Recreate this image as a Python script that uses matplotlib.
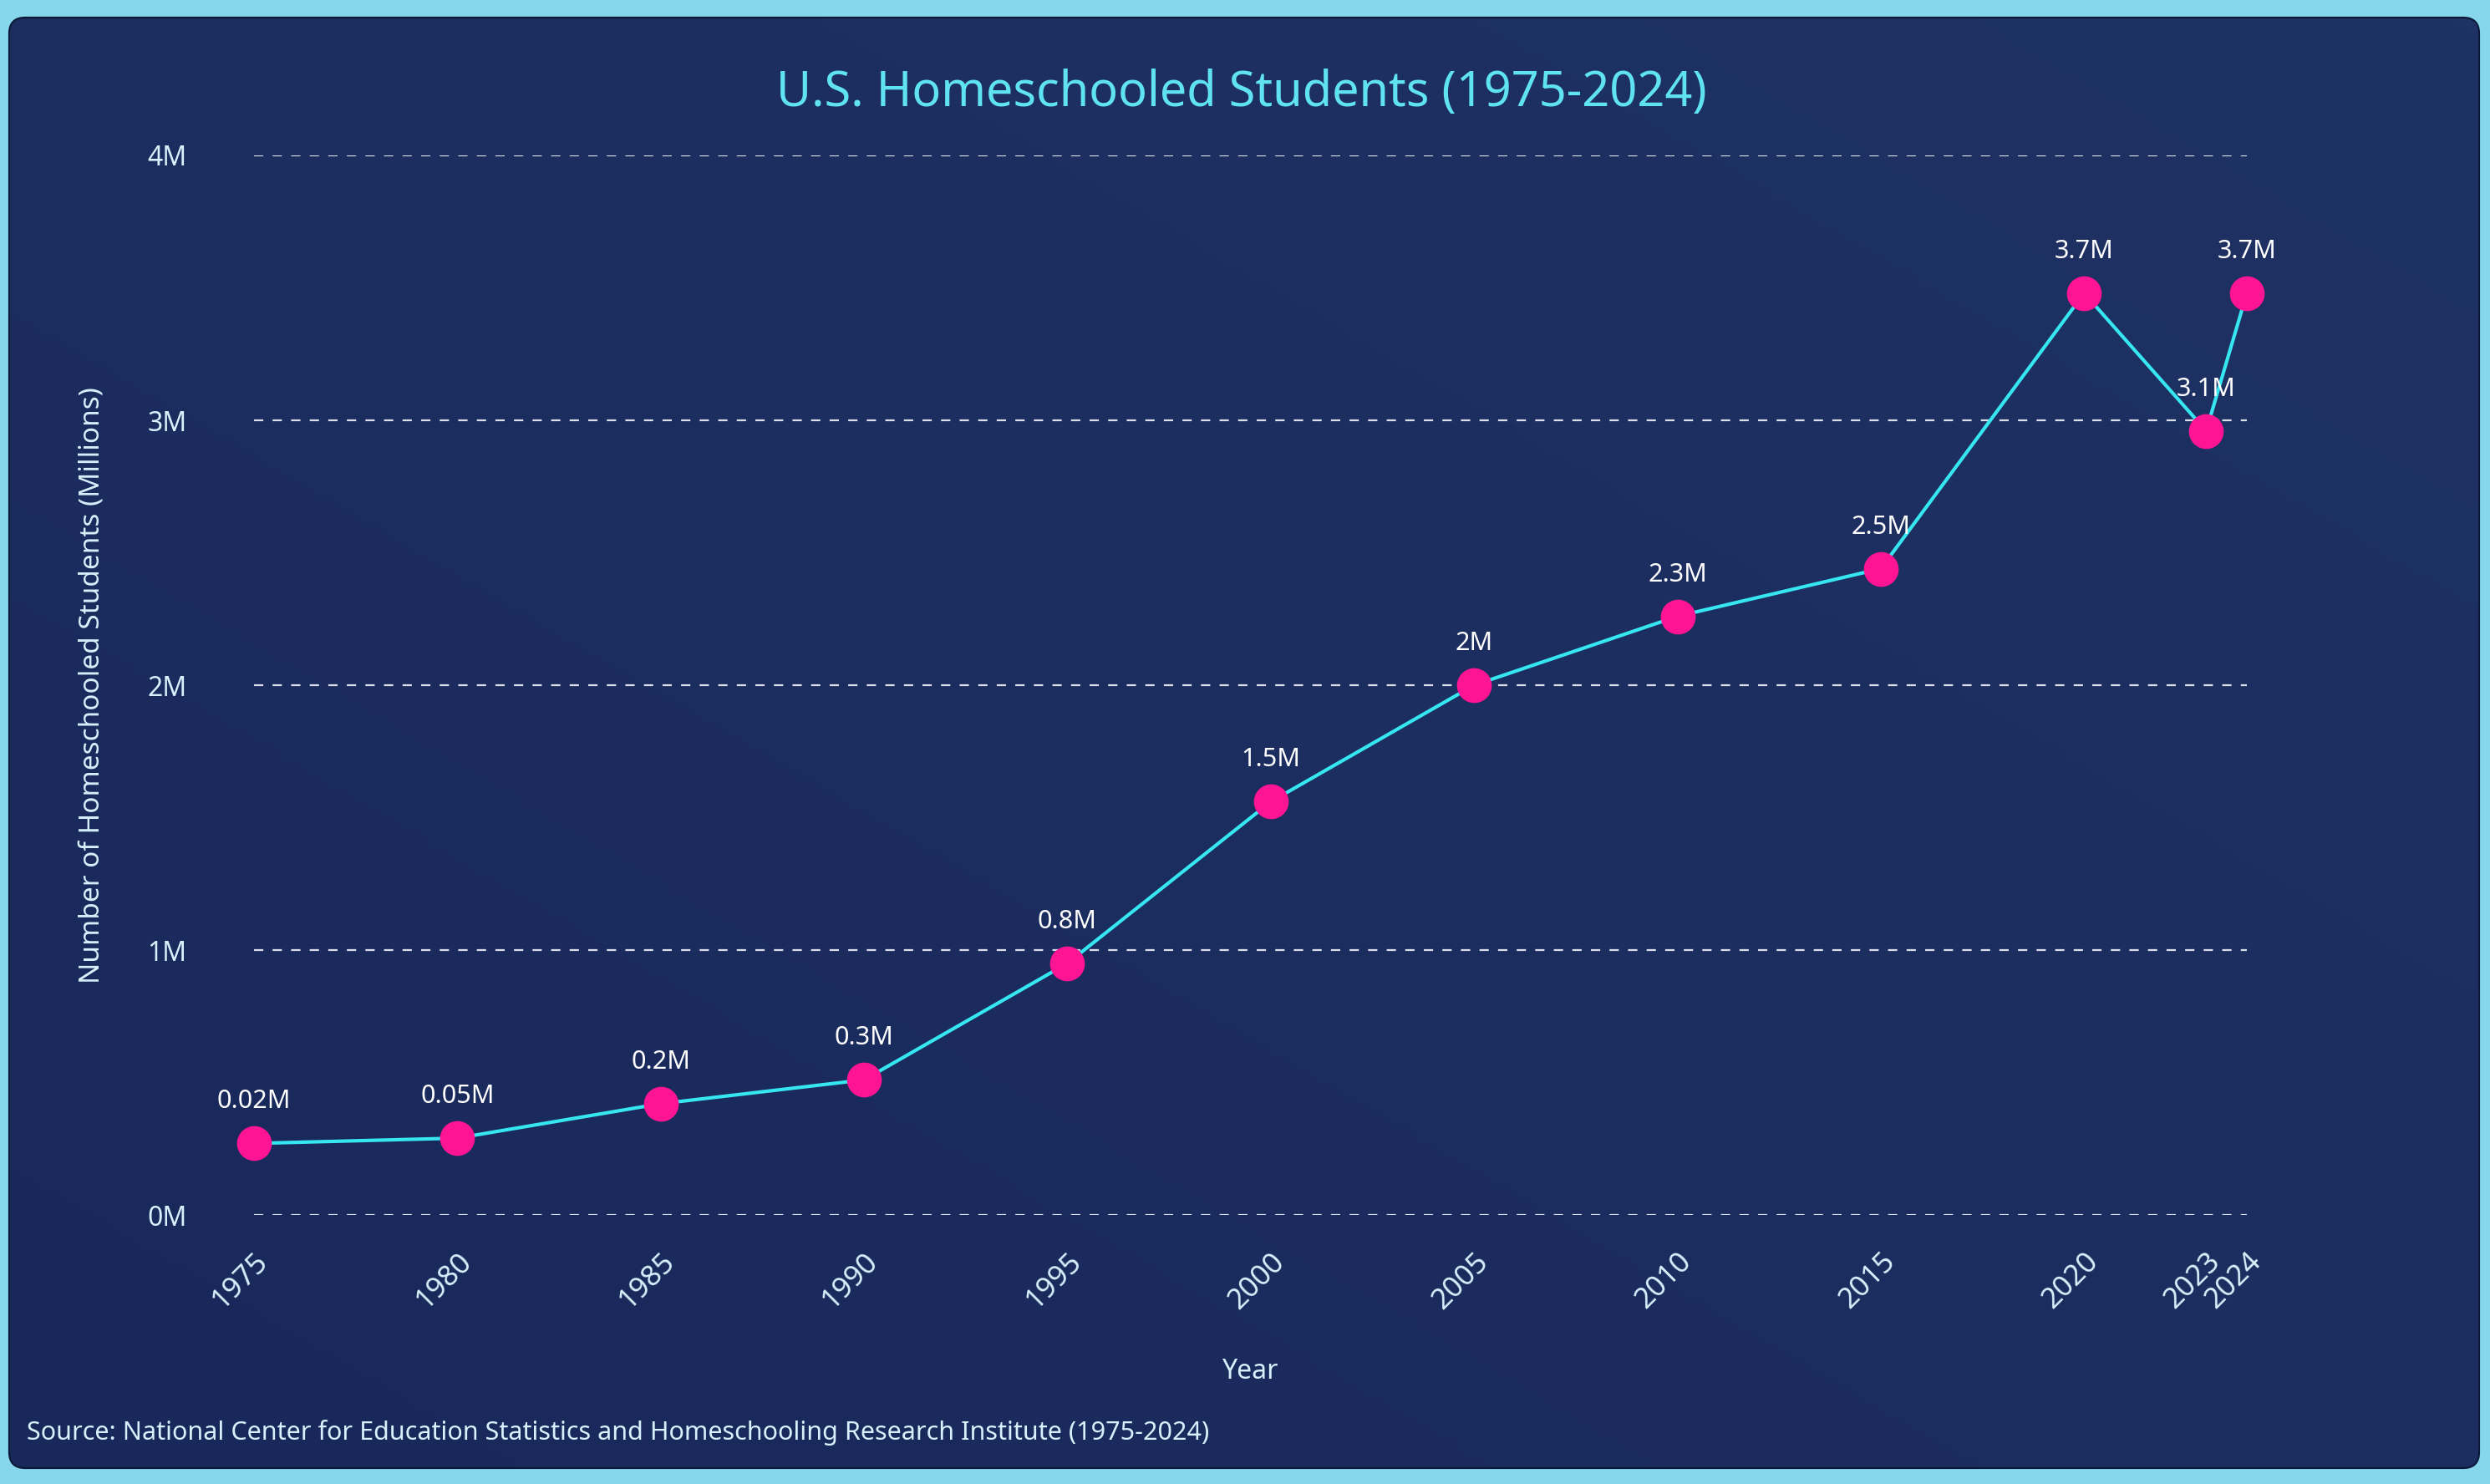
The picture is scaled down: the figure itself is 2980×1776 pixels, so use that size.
import numpy as np
import matplotlib
matplotlib.use('Agg')
import matplotlib.pyplot as plt
from matplotlib.patches import FancyBboxPatch

plt.rcParams['font.family'] = ['Noto Sans', 'DejaVu Sans']

# data
years = [1975, 1980, 1985, 1990, 1995, 2000, 2005, 2010, 2015, 2020, 2023, 2024]
students = [0.27, 0.29, 0.42, 0.51, 0.95, 1.56, 2.0, 2.26, 2.44, 3.48, 2.96, 3.48]
point_labels = ['0.02M', '0.05M', '0.2M', '0.3M', '0.8M', '1.5M', '2M', '2.3M', '2.5M', '3.7M', '3.1M', '3.7M']
y_ticks = [0, 1, 2, 3, 4]
y_tick_labels = ['0M', '1M', '2M', '3M', '4M']

W, H = 2980, 1776
fig = plt.figure(figsize=(W / 100, H / 100), dpi=100)
fig.patch.set_facecolor('#86d6ec')

# background card
bg = fig.add_axes([0, 0, 1, 1])
bg.set_xlim(0, W)
bg.set_ylim(H, 0)
bg.axis('off')
card = FancyBboxPatch((12, 22), W - 26, H - 42, boxstyle='round,pad=0,rounding_size=18',
                      facecolor='#1b2a5c', edgecolor='#0b1838', linewidth=3, zorder=1)
bg.add_patch(card)
gx, gy = np.meshgrid(np.linspace(0, 1, 300), np.linspace(0, 1, 200))
grad = 0.5 * gx + 0.5 * (1 - gy)
img = bg.imshow(grad, extent=[12, W - 14, H - 20, 22], cmap=matplotlib.colors.LinearSegmentedColormap.from_list('c', ['#19285a', '#1f3264']),
                aspect='auto', zorder=2)
img.set_clip_path(card)

ax = fig.add_axes([304 / W, 1 - 1454 / H, (2689 - 304) / W, (1454 - 186) / H])
ax.set_facecolor('none')
ax.set_xlim(1975, 2024)
ax.set_ylim(0, 4)
for s in ax.spines.values():
    s.set_visible(False)

ax.set_yticks(y_ticks)
ax.set_yticklabels(y_tick_labels)
ax.set_xticks(years)
ax.set_xticklabels([str(y) for y in years], rotation=45, ha='right', rotation_mode='anchor')
ax.tick_params(axis='y', length=0, pad=58, labelsize=23, labelcolor='#d6f1fb')
ax.tick_params(axis='x', length=0, pad=28, labelsize=25, labelcolor='#d6f1fb')
ax.grid(axis='y', color='#f0f4fa', linestyle=(0, (5, 5)), linewidth=1.6, alpha=0.9)
ax.grid(axis='x', visible=False)

ax.plot(years, students, color='#36e6f0', linewidth=3, zorder=3, clip_on=False)
ax.plot(years, students, 'o', color='#ff1493', markersize=30, markeredgewidth=0, zorder=4, clip_on=False)
for x, y, t in zip(years, students, point_labels):
    ax.annotate(t, (x, y), xytext=(0, 36), textcoords='offset points', ha='center', va='center',
                color='white', fontsize=22, zorder=5)

ax.set_xlabel('Year', color='#d6f1fb', fontsize=23, labelpad=37)
ax.set_ylabel('Number of Homeschooled Students (Millions)', color='#d6f1fb', fontsize=24, labelpad=36)

fig.text(1486 / W, 1 - 112 / H, 'U.S. Homeschooled Students (1975-2024)', color='#5fe3f2',
         fontsize=41.5, ha='center', va='center')
fig.text(32 / W, 1 - 1714 / H, 'Source: National Center for Education Statistics and Homeschooling Research Institute (1975-2024)',
         color='#d6f1fb', fontsize=22, ha='left', va='center')

fig.savefig('out.png', dpi=100, facecolor=fig.get_facecolor())
